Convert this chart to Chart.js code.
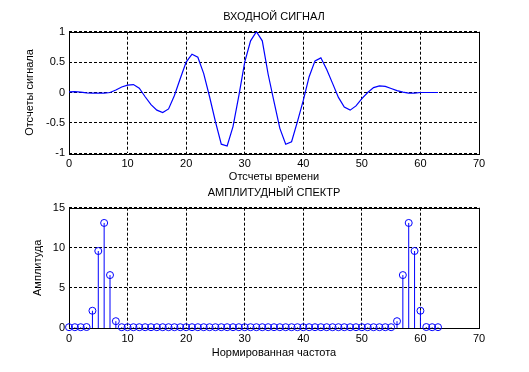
<!DOCTYPE html>
<html>
<head>
<meta charset="utf-8">
<script src="https://cdn.jsdelivr.net/npm/chart.js@4/dist/chart.umd.min.js"></script>
<style>
  html, body { margin: 0; padding: 0; background: #fff; }
  #wrap { position: relative; width: 529px; height: 372px; background: #fff; }
  .panel { position: absolute; left: 0; width: 529px; height: 186px; }
  canvas { display: block; }
</style>
</head>
<body>
<div id="wrap">
  <div class="panel" style="top:0"><canvas id="signalChart" width="529" height="186"></canvas></div>
  <div class="panel" style="top:186px"><canvas id="spectrumChart" width="529" height="186"></canvas></div>
</div>
<script>
// sample numbers (time samples and frequency bins share the same 0..63 index)
const sampleIndex = [
  0, 1, 2, 3, 4, 5, 6, 7, 8, 9, 10, 11, 12, 13, 14, 15,
  16, 17, 18, 19, 20, 21, 22, 23, 24, 25, 26, 27, 28, 29, 30, 31,
  32, 33, 34, 35, 36, 37, 38, 39, 40, 41, 42, 43, 44, 45, 46, 47,
  48, 49, 50, 51, 52, 53, 54, 55, 56, 57, 58, 59, 60, 61, 62, 63
];

// input signal
const signalValues = [
  0.01, 0.015, 0.005, -0.005, -0.01, -0.01, -0.01, 0.0, 0.04, 0.09,
  0.12, 0.13, 0.07, -0.07, -0.2, -0.29, -0.33, -0.27, -0.05, 0.23,
  0.5, 0.63, 0.58, 0.31, -0.07, -0.48, -0.85, -0.88, -0.56, -0.05,
  0.5, 0.85, 1.0, 0.85, 0.3, -0.15, -0.59, -0.85, -0.81, -0.48,
  -0.13, 0.26, 0.52, 0.57, 0.38, 0.15, -0.08, -0.24, -0.29, -0.22,
  -0.1, 0.0, 0.08, 0.11, 0.1, 0.065, 0.03, 0.005, -0.01, -0.01,
  0.0, 0.0, 0.0, 0.0
];

// amplitude spectrum
const spectrumValues = [
  0.1, 0.1, 0.1, 0.12, 2.15, 9.6, 13.1, 6.6, 0.85, 0.1,
  0.1, 0.1, 0.1, 0.1, 0.1, 0.1, 0.1, 0.1, 0.1, 0.1,
  0.1, 0.1, 0.1, 0.1, 0.1, 0.1, 0.1, 0.1, 0.1, 0.1,
  0.1, 0.1, 0.1, 0.1, 0.1, 0.1, 0.1, 0.1, 0.1, 0.1,
  0.1, 0.1, 0.1, 0.1, 0.1, 0.1, 0.1, 0.1, 0.1, 0.1,
  0.1, 0.1, 0.1, 0.1, 0.1, 0.1, 0.85, 6.6, 13.1, 9.6,
  2.15, 0.12, 0.1, 0.1
];

const xTicks = [0, 10, 20, 30, 40, 50, 60, 70];
const signalTicks = [-1, -0.5, 0, 0.5, 1];
const spectrumTicks = [0, 5, 10, 15];

const BLUE = '#0000ff';
const FONT = { family: '"Liberation Sans", Arial, sans-serif', size: 11, weight: 'normal', lineHeight: 1.2 };

// solid box round the axes, like a matlab figure
const boxPlugin = {
  id: 'box',
  beforeDatasetsDraw(chart) {
    const { ctx, chartArea: a } = chart;
    ctx.save();
    ctx.strokeStyle = '#000';
    ctx.lineWidth = 1;
    ctx.strokeRect(Math.round(a.left) + 0.5, Math.round(a.top) + 0.5, Math.round(a.right - a.left), Math.round(a.bottom - a.top));
    ctx.restore();
  }
};

function fixedTicks(values) {
  return scale => { scale.ticks = values.map(v => ({ value: v })); };
}

function makeScales(yTicks, yMin, yMax, xTitle, yTitle, xHeight, xTitlePad, yTitlePad) {
  return {
    x: {
      type: 'linear', min: 0, max: 70,
      grid: { color: '#000', drawTicks: false },
      border: { display: false, dash: [3, 2] },
      afterBuildTicks: fixedTicks(xTicks),
      afterFit: s => { s.height = xHeight; },
      ticks: { font: FONT, color: '#000', padding: 4, maxRotation: 0, autoSkip: false, callback: v => String(v) },
      title: { display: true, text: xTitle, font: FONT, color: '#000', padding: { top: 0, bottom: xTitlePad } }
    },
    y: {
      type: 'linear', min: yMin, max: yMax,
      grid: { color: '#000', drawTicks: false },
      border: { display: false, dash: [3, 2] },
      afterBuildTicks: fixedTicks(yTicks),
      afterFit: s => { s.width = 69; },
      ticks: { font: FONT, color: '#000', padding: 4, callback: v => String(v) },
      title: { display: true, text: yTitle, font: FONT, color: '#000', padding: { top: yTitlePad, bottom: 0 } }
    }
  };
}

function baseOptions(title, titlePad, scales) {
  return {
    responsive: false,
    animation: false,
    devicePixelRatio: 1,
    events: [],
    layout: { padding: { left: 0, right: 50, top: 0, bottom: 0 } },
    plugins: {
      legend: { display: false },
      tooltip: { enabled: false },
      title: { display: true, text: title, font: FONT, color: '#000', fullSize: false, padding: titlePad }
    },
    scales
  };
}

function drawSignal() {
  const points = sampleIndex.map((x, i) => ({ x, y: signalValues[i] }));
  new Chart(document.getElementById('signalChart').getContext('2d'), {
    type: 'line',
    data: {
      datasets: [{
        data: points,
        borderColor: BLUE,
        borderWidth: 1.2,
        pointRadius: 0,
        tension: 0,
        fill: false
      }]
    },
    options: baseOptions('ВХОДНОЙ СИГНАЛ', { top: 10, bottom: 8.5 },
      makeScales(signalTicks, -1, 1, 'Отсчеты времени', 'Отсчеты сигнала', 32.7, 2.9, 23)),
    plugins: [boxPlugin]
  });
}

function drawSpectrum() {
  const points = sampleIndex.map((x, i) => ({ x, y: spectrumValues[i] }));
  // each stem is a short line from the baseline to the value, broken by a gap
  const stems = sampleIndex.flatMap((x, i) => [
    { x, y: 0 }, { x, y: spectrumValues[i] }, { x, y: null }
  ]);
  new Chart(document.getElementById('spectrumChart').getContext('2d'), {
    type: 'line',
    data: {
      datasets: [
        { data: stems, borderColor: BLUE, borderWidth: 1, pointRadius: 0, spanGaps: false },
        {
          data: points,
          showLine: false,
          borderColor: BLUE,
          backgroundColor: 'rgba(0,0,0,0)',
          borderWidth: 1,
          pointRadius: 3.5,
          clip: false
        }
      ]
    },
    options: baseOptions('АМПЛИТУДНЫЙ СПЕКТР', { top: 0, bottom: 8.5 },
      makeScales(spectrumTicks, 0, 15, 'Нормированная частота', 'Амплитуда', 44, 12.4, 31)),
    plugins: [boxPlugin]
  });
}

document.addEventListener('DOMContentLoaded', () => {
  drawSignal();
  drawSpectrum();
});
</script>
</body>
</html>
